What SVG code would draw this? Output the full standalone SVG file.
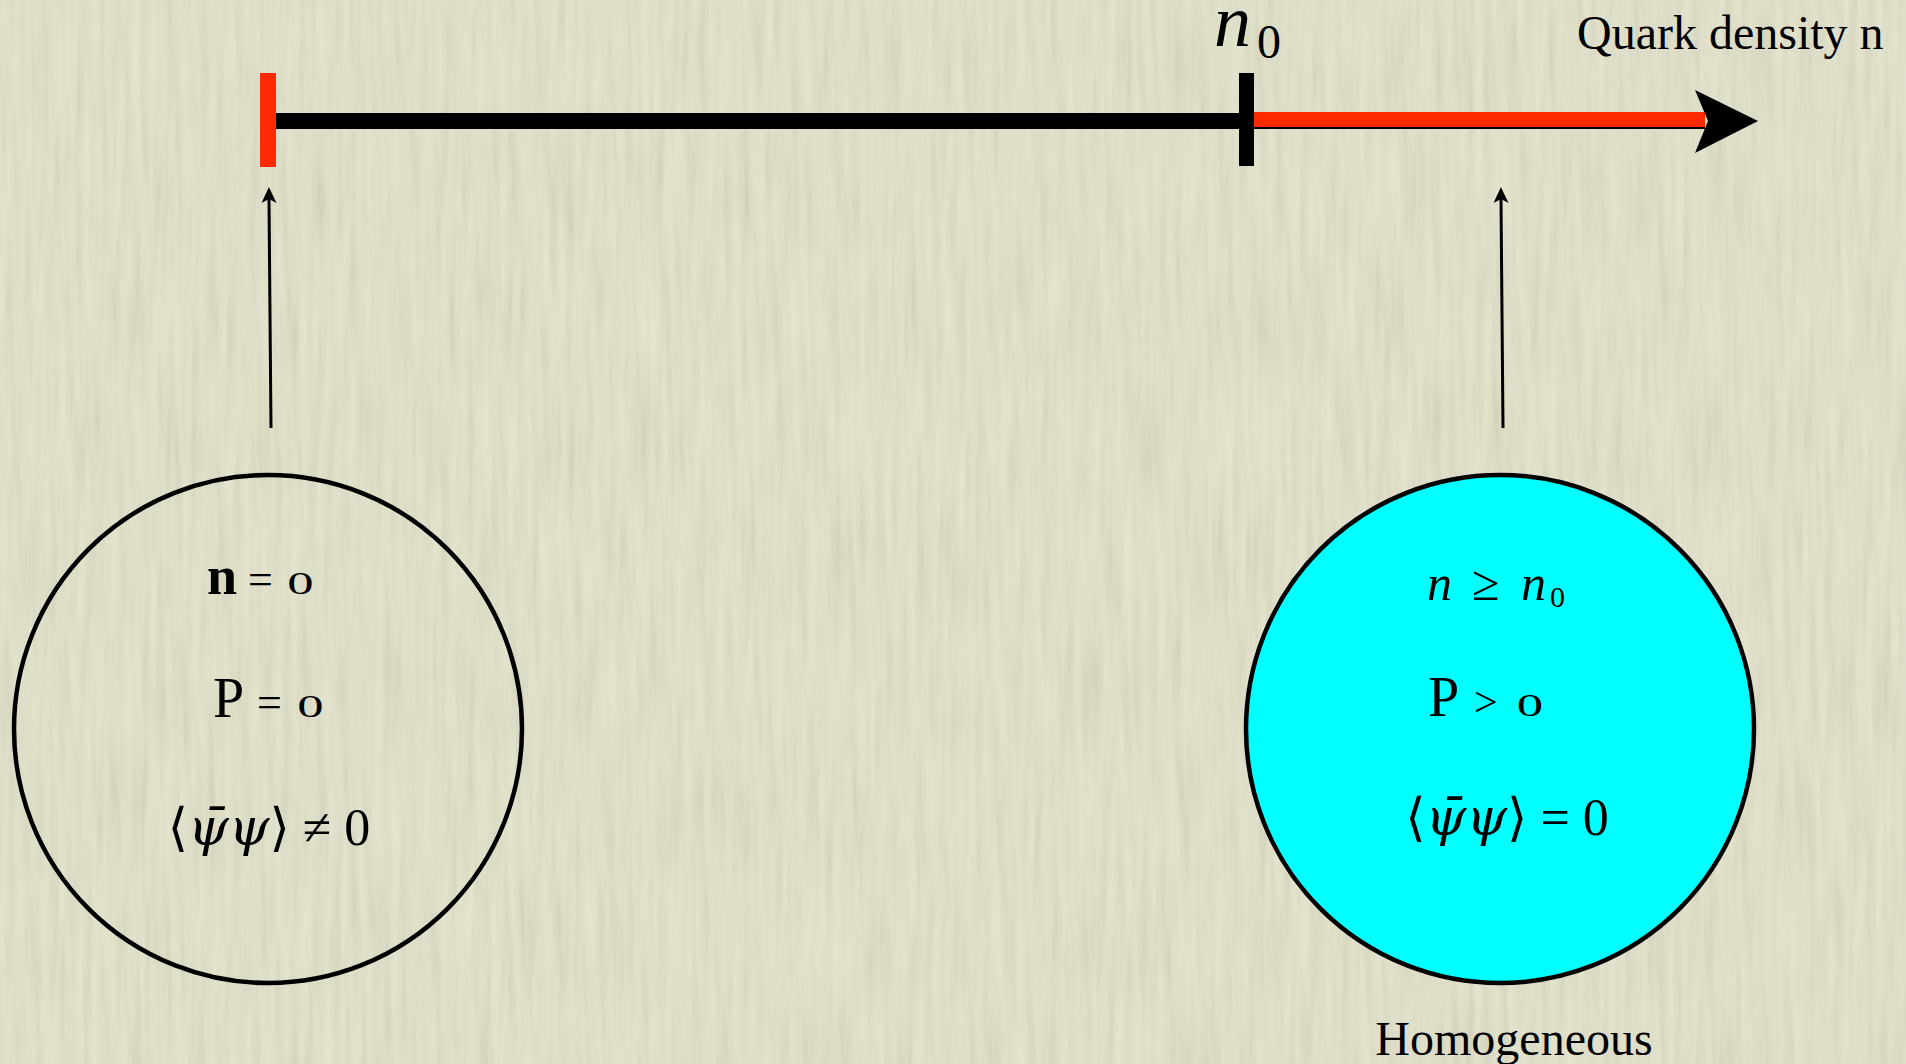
<svg xmlns="http://www.w3.org/2000/svg" width="1906" height="1064" viewBox="0 0 1906 1064">
<style>
.serif{font-family:"Liberation Serif","DejaVu Serif",serif;fill:#000}
.it{font-style:italic}
.psi{font-family:"DejaVu Serif","Liberation Serif",serif;font-style:italic}
.ring{stroke:#000;stroke-width:4.5}
.thin{stroke:#000;stroke-width:3;fill:none}
</style>
<defs>
<filter id="paper" x="0" y="0" width="100%" height="100%">
<feTurbulence type="fractalNoise" baseFrequency="0.12 0.008" numOctaves="3" seed="7"/>
<feColorMatrix type="matrix" values="1 0 0 0 0  1 0 0 0 0  1 0 0 0 0  0 0 0 0 0.13"/>
</filter>
<marker id="ah" markerUnits="userSpaceOnUse" markerWidth="18" markerHeight="16" refX="4" refY="7.5" orient="auto" viewBox="0 0 18 16">
<path d="M0,0 L16,7.5 L0,15 L4,7.5 z" fill="#000"/>
</marker>
</defs>
<rect width="1906" height="1064" fill="#e2e2ca"/>
<rect width="1906" height="1064" filter="url(#paper)"/>

<g id="axis">
<rect x="276" y="113" width="1429" height="16" fill="#000"/>
<rect x="1254" y="112" width="451" height="15" fill="#ff2a00"/>
<path d="M1695,90 L1758,121 L1695,153 L1708,121 z" fill="#000"/>
</g>
<g id="tick-start"><rect x="260" y="73" width="16" height="94" fill="#ff2a00"/></g>
<g id="tick-n0"><rect x="1239" y="73" width="15" height="93" fill="#000"/></g>
<g id="label-n0"><text class="serif it" x="1214" y="46" font-size="74">n<tspan class="serif" font-style="normal" x="1257" y="58" font-size="48">0</tspan></text></g>
<g id="label-axis"><text class="serif" x="1577" y="49" font-size="48">Quark density n</text></g>

<g id="connectors">
<path class="thin" d="M271,428 L269,199" marker-end="url(#ah)"/>
<path class="thin" d="M1503,428 L1501,199" marker-end="url(#ah)"/>
</g>

<g id="node-vacuum">
<circle class="ring" cx="268" cy="729" r="254" fill="none"/>
<text class="serif" x="207" y="594" font-size="54"><tspan font-weight="bold">n</tspan><tspan x="248" font-size="44">=</tspan></text>
<text class="serif" transform="translate(300.5,594) scale(1.7,1)" font-size="31" text-anchor="middle">0</text>
<text class="serif" x="213" y="717" font-size="56">P<tspan x="257" font-size="44">=</tspan></text>
<text class="serif" transform="translate(310.5,717) scale(1.7,1)" font-size="31" text-anchor="middle">0</text>
<text class="serif" x="269" y="845" font-size="52" text-anchor="middle">⟨<tspan class="psi">ψ̄ψ</tspan>⟩ ≠ 0</text>
</g>

<g id="node-homogeneous">
<circle class="ring" cx="1500" cy="729" r="254" fill="#00ffff"/>
<text class="serif it" x="1427" y="600" font-size="50">n<tspan font-style="normal" x="1472">≥</tspan><tspan x="1521">n</tspan><tspan font-style="normal" x="1550" y="607" font-size="30">0</tspan></text>
<text class="serif" x="1428" y="716" font-size="56">P<tspan x="1474" font-size="42">&gt;</tspan></text>
<text class="serif" transform="translate(1530,716) scale(1.7,1)" font-size="31" text-anchor="middle">0</text>
<text class="serif" x="1507" y="835" font-size="52" text-anchor="middle">⟨<tspan class="psi">ψ̄ψ</tspan>⟩ = 0</text>
</g>
<g id="label-homogeneous"><text class="serif" x="1514" y="1055" font-size="48" text-anchor="middle">Homogeneous</text></g>
</svg>
